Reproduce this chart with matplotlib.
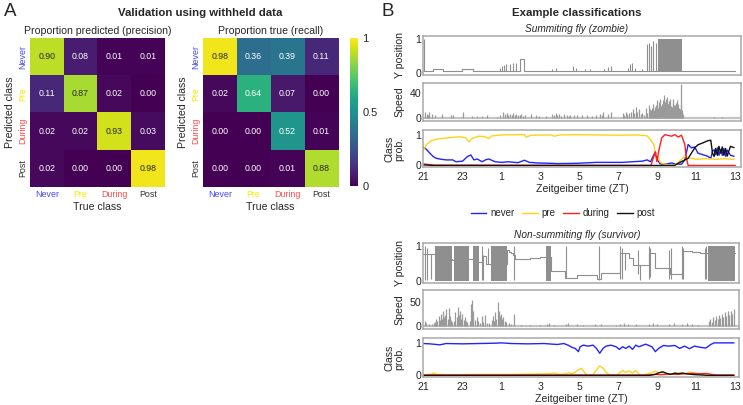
import numpy as np
import matplotlib
matplotlib.use('Agg')
import matplotlib.pyplot as plt
from matplotlib.lines import Line2D
from matplotlib.cm import ScalarMappable
from matplotlib.colors import Normalize

plt.rcParams['font.family'] = ['Liberation Sans', 'DejaVu Sans']

# ---------------- data ----------------
classes = ['Never', 'Pre', 'During', 'Post']
class_colors = ['#4646ff', '#f5ea00', '#ff4a4a', '#333333']

precision = np.array([[0.90, 0.08, 0.01, 0.01],
                      [0.11, 0.87, 0.02, 0.00],
                      [0.02, 0.02, 0.93, 0.03],
                      [0.02, 0.00, 0.00, 0.98]])
recall = np.array([[0.98, 0.36, 0.39, 0.11],
                   [0.02, 0.64, 0.07, 0.00],
                   [0.00, 0.00, 0.52, 0.01],
                   [0.00, 0.00, 0.01, 0.88]])

zt_ticks = [0, 2, 4, 6, 8, 10, 12, 14, 16]
zt_labels = ['21', '23', '1', '3', '5', '7', '9', '11', '13']

# ---- summiting fly (zombie) ----
top_y_t = [0, 0.5, 1.0, 2.0, 2.55, 4.95, 5.2, 13.3, 14.9, 16]
top_y_v = [0.06, 0.12, 0.06, 0.12, 0.06, 0.42, 0.06, 0.06, 0.04, 0.04]
top_spk_t = [0.04, 3.95, 4.05, 4.15, 4.25, 4.45, 4.6, 4.75, 6.6, 6.8, 7.7, 7.85,
             8.3, 8.55, 9.3, 9.5, 9.65, 10.5, 10.6, 10.7, 10.85, 11.2, 11.5,
             11.6, 11.7, 11.8, 11.95]
top_spk_h = [1.0, 0.15, 0.2, 0.22, 0.25, 0.25, 0.3, 0.3, 0.12, 0.14, 0.2, 0.15,
             0.12, 0.1, 0.12, 0.18, 0.2, 0.15, 0.25, 0.3, 0.15, 0.12, 0.85,
             0.9, 0.8, 0.95, 0.9]
top_burst = [(12.05, 13.28, 0.05, 1.0)]

top_spd_t = [0.10, 0.18, 0.25, 0.32, 0.44, 0.6, 0.99, 1.44, 1.52, 2.03, 2.53, 2.78,
             3.03, 3.28, 3.79, 3.95, 4.12, 4.2, 4.29, 4.38, 4.46, 4.54, 4.62, 4.7,
             4.79, 4.87, 4.95, 5.04, 5.12, 5.21, 5.54, 5.8, 5.96, 6.3, 6.63, 6.72,
             6.8, 6.88, 6.97, 7.05, 7.22, 7.39, 7.47, 7.55, 7.72, 7.89, 8.14, 8.39,
             8.64, 8.89, 9.06, 9.15, 9.23, 9.48, 9.65, 10.23, 10.32, 10.4, 10.48,
             10.57, 10.66, 10.74, 10.82, 10.9, 10.98, 11.07, 11.16, 11.25, 11.33,
             11.41, 11.5, 11.58, 11.62, 11.66, 11.7, 11.74, 11.78, 11.82, 11.88,
             11.92, 11.96, 11.99, 12.04, 12.08, 12.12, 12.16, 12.2, 12.24, 12.28,
             12.33, 12.37, 12.41, 12.45, 12.5, 12.54, 12.58, 12.62, 12.66, 12.7,
             12.75, 12.79, 12.83, 12.87, 12.91, 12.95, 13.0, 13.04, 13.08, 13.12,
             13.17, 13.21, 13.25, 13.29, 13.33, 14.92, 15.34]
top_spd_v = [9.4, 6.8, 5, 9.4, 6.8, 4.2, 6.8, 4.2, 5.2, 9.4, 2.6, 2.6,
             2.6, 4.2, 1.5, 4.2, 9.4, 6.8, 7.8, 5, 6.8, 5, 7.8, 4,
             6.8, 4.2, 5, 6.8, 3, 4.2, 6.8, 4.2, 2.6, 2.6, 6.8, 4,
             7.8, 5, 6.8, 3.5, 5.8, 4.2, 3, 4.2, 5.2, 4.2, 4.2, 4.2,
             2.6, 5.2, 6.8, 4, 8.5, 6.8, 9.5, 8, 5, 9.4, 6,
             7, 10, 14.5, 8, 17, 10, 14.5, 6, 8, 5,
             15.5, 8, 19.7, 10, 14.5, 12, 16, 22.4, 12, 17.2,
             14, 20, 27.6, 15, 19.7, 25, 30.2, 18, 22.4, 28,
             35.4, 20, 25, 30, 32.8, 22, 22.4, 26, 30.2, 18,
             17.2, 24, 30.2, 20, 19.7, 24, 27.6, 18, 22.4, 15,
             14.5, 20, 53, 12, 6.8, 1.5, 1.5]

top_t_never = [0.0, 0.1, 0.35, 0.52, 0.69, 0.94, 1.19, 1.52, 1.69, 2.03, 2.28, 2.45,
               2.61, 2.78, 3.03, 3.2, 3.37, 3.7, 4.04, 4.37, 4.87, 5.2, 5.45, 5.87,
               6.55, 6.89, 7.89, 8.89, 10.23, 11.24, 11.49, 11.66, 11.91, 11.99,
               12.16, 12.41, 12.75, 12.91, 13.25, 13.42, 13.59, 13.76, 13.93, 14.09,
               14.34, 14.59, 14.75, 14.84, 14.92, 15.0, 15.09, 15.17, 15.26, 15.34,
               15.42, 15.51, 15.59, 15.76, 15.93]
top_never = [0.59, 0.57, 0.40, 0.29, 0.23, 0.20, 0.18, 0.18, 0.12, 0.14, 0.29, 0.34,
             0.18, 0.21, 0.12, 0.18, 0.21, 0.12, 0.10, 0.12, 0.09, 0.17, 0.10, 0.08,
             0.07, 0.06, 0.07, 0.10, 0.10, 0.14, 0.18, 0.12, 0.45, 0.20,
             0.05, 0.04, 0.08, 0.05, 0.04, 0.18, 0.68, 0.57, 0.60, 0.40,
             0.35, 0.30, 0.23, 0.46, 0.51, 0.35, 0.57, 0.33, 0.51, 0.33,
             0.55, 0.30, 0.50, 0.33, 0.30]
top_t_pre = [0.0, 0.18, 0.44, 0.85, 1.36, 1.86, 2.19, 2.36, 2.53, 2.86, 3.2, 3.37,
             3.53, 4.04, 4.87, 5.2, 5.29, 5.54, 6.55, 6.72, 7.05, 7.89, 8.9, 10.0,
             11.0, 11.49, 11.66, 11.83, 11.91, 12.08, 12.16, 12.33, 12.58, 12.9,
             13.08, 13.42, 13.6, 14.0, 14.5, 15.0, 15.5, 15.93]
top_pre = [0.46, 0.68, 0.81, 0.87, 0.90, 0.93, 0.90, 0.77, 0.88, 0.95, 0.93, 0.87,
           0.96, 0.99, 1.0, 1.0, 0.92, 0.98, 0.99, 0.95, 0.99, 1.0, 0.99, 0.98,
           0.99, 0.96, 0.84, 0.68, 0.40, 0.25, 0.10, 0.05, 0.02, 0.02,
           0.10, 0.30, 0.25, 0.20, 0.22, 0.20, 0.22, 0.20]
top_t_during = [0.0, 0.3, 0.6, 11.7, 11.74, 11.91, 11.99, 12.08, 12.24, 12.41, 12.58,
                12.75, 12.91, 13.08, 13.25, 13.33, 13.42, 13.5, 13.59, 16.0]
top_during = [0.05, 0.03, 0.01, 0.0, 0.12, 0.44, 0.12, 0.46, 0.90, 1.0, 0.97,
              0.95, 1.0, 0.92, 0.98, 0.84, 0.68, 0.23, 0.0, 0.0]
top_t_post = [0.0, 0.3, 0.5, 12.9, 13.08, 13.42, 13.59, 13.76, 13.93, 14.09, 14.34,
              14.59, 14.75, 14.84, 14.92, 15.0, 15.09, 15.17, 15.26, 15.34, 15.42,
              15.51, 15.59, 15.76, 15.93]
top_post = [0.02, 0.01, 0.0, 0.0, 0.07, 0.18, 0.23, 0.40, 0.57, 0.67, 0.73,
            0.80, 0.82, 0.40, 0.29, 0.55, 0.33, 0.62, 0.40, 0.60, 0.33,
            0.55, 0.30, 0.62, 0.58]

# ---- non-summiting fly (survivor) ----
bot_y_t = [0.0, 0.6, 1.5, 1.6, 2.35, 2.55, 2.85, 3.0, 3.25, 3.5, 4.3, 4.4, 4.5,
           4.6, 4.7, 5.5, 6.0, 6.3, 6.55, 7.3, 7.9, 8.9, 9.15, 10.1, 10.55,
           10.75, 11.6, 11.9, 12.65, 13.35, 13.8, 14.2, 14.6, 16.0]
bot_y_v = [0.78, 0.62, 0.60, 0.62, 0.62, 0.55, 0.55, 0.72, 0.50, 0.50, 0.90, 0.85,
           0.80, 0.75, 0.64, 0.66, 0.68, 0.70, 0.27, 0.07, 0.15, 0.05, 0.23, 0.80,
           0.65, 0.47, 0.80, 0.38, 0.18, 0.88, 0.85, 0.80, 0.80, 0.80]
bot_spk_t = [0.1, 0.2, 0.4, 2.25, 2.75, 3.0, 3.1, 3.35, 4.65, 7.35, 9.0, 10.1,
             10.2, 10.35, 11.0, 11.15, 11.6, 11.65, 12.6, 12.7, 13.28, 13.33,
             14.45, 14.5]
bot_spk_lo = [0.02, 0.02, 0.05, 0.05, 0.5, 0.02, 0.02, 0.5, 0.02, 0.07, 0.03, 0.05,
              0.05, 0.3, 0.2, 0.03, 0.05, 0.1, 0.05, 0.05, 0.05, 0.05, 0.05, 0.05]
bot_spk_hi = [1.0, 0.95, 0.78, 1.0, 1.0, 1.0, 0.75, 0.95, 1.0, 1.0, 1.0, 1.0,
              0.95, 0.8, 0.9, 0.47, 1.0, 0.95, 0.9, 0.95, 1.0, 0.95, 0.95, 1.0]
bot_burst = [(0.6, 1.5, 0.0, 1.0), (1.6, 2.35, 0.0, 1.0), (2.55, 2.85, 0.0, 1.0),
             (3.5, 4.3, 0.0, 1.0), (6.3, 6.55, 0.0, 1.0), (14.6, 16.0, 0.0, 1.0)]

bot_spd_t = [0.1, 0.15, 0.3, 0.45, 0.55, 0.62, 0.68, 0.74, 0.8, 0.86, 0.92, 0.98,
             1.03, 1.08, 1.14, 1.2, 1.26, 1.32, 1.38, 1.44, 1.5, 1.6, 1.66, 1.72,
             1.78, 1.84, 1.9, 1.96, 2.02, 2.08, 2.14, 2.2, 2.26, 2.4, 2.47, 2.53,
             2.58, 2.65, 2.75, 2.82, 2.9, 3.0, 3.1, 3.2, 3.3, 3.4, 3.52, 3.58, 3.64,
             3.7, 3.76, 3.83, 3.88, 3.94, 4.0, 4.06, 4.12, 4.18, 4.25, 4.4, 4.5,
             4.65, 5.0, 5.5, 6.0, 6.35, 6.45, 6.7, 7.35, 7.45, 7.9, 8.2, 8.8, 9.1,
             9.9, 10.1, 10.3, 10.5, 10.9, 11.6, 11.8, 12.0, 12.6, 12.85, 13.3,
             13.55, 13.8, 14.1, 14.65, 14.72, 14.8, 14.88, 14.95, 15.02, 15.1,
             15.18, 15.25, 15.32, 15.4, 15.48, 15.55, 15.62, 15.7, 15.78, 15.85,
             15.92]
bot_spd_v = [10, 6, 3, 4, 5, 8, 14, 10, 20, 12, 25, 15,
             30, 18, 22, 35, 14, 38, 20, 12, 8, 10, 28, 18,
             40, 22, 30, 15, 25, 12, 18, 10, 8, 10, 45, 54,
             30, 12, 18, 10, 6, 20, 8, 22, 6, 5, 12, 20, 10,
             28, 15, 50, 32, 20, 25, 14, 18, 10, 8, 5, 4,
             25, 1, 1.5, 2, 4, 6, 2, 3, 5, 3, 2, 4, 3,
             2, 4, 6, 4, 3, 4, 6, 4, 3, 6, 3,
             5, 4, 2, 10, 14, 8, 18, 12, 20, 14,
             22, 16, 25, 18, 28, 20, 30, 22, 32, 25,
             35]

bot_t_never = [0.0, 0.35, 0.86, 1.19, 2.03, 2.86, 3.7, 4.03, 4.54, 5.38, 6.21, 6.88,
               7.22, 7.47, 7.64, 7.8, 7.97, 8.05, 8.22, 8.47, 8.72, 8.89, 9.06, 9.23,
               9.39, 9.64, 9.9, 10.07, 10.23, 10.4, 10.57, 10.74, 10.91, 11.07,
               11.41, 11.74, 11.91, 12.08, 12.33, 12.58, 12.91, 13.16, 13.41, 13.66,
               13.91, 14.25, 14.5, 14.75, 14.92, 15.93]
bot_never = [0.98, 0.97, 0.94, 0.98, 0.97, 0.98, 0.99, 1.0, 0.98, 0.97, 0.98, 0.95,
             0.98, 0.92, 0.86, 0.83, 0.73, 0.88, 0.93, 0.90, 0.93, 0.83, 0.68, 0.83,
             0.90, 0.93, 0.88, 0.80, 0.88, 0.83, 0.90, 0.80, 0.93, 0.88,
             0.96, 0.88, 0.73, 0.83, 0.92, 0.90, 0.92, 0.83, 0.90, 0.82,
             0.90, 0.86, 0.84, 0.95, 1.0, 1.0]
bot_t_pre = [0.0, 0.4, 0.55, 0.7, 1.5, 3.0, 4.5, 5.5, 6.5, 6.7, 7.0, 7.3, 7.5, 7.64,
             7.8, 7.97, 8.13, 8.3, 8.47, 8.72, 8.89, 9.06, 9.23, 9.39, 9.56, 9.9,
             10.07, 10.23, 10.4, 10.57, 10.74, 10.91, 11.07, 11.24, 11.58, 11.74,
             11.91, 12.08, 12.24, 12.41, 12.58, 12.91, 13.16, 13.41, 13.66, 13.91,
             14.08, 14.42, 15.93]
bot_pre = [0.02, 0.03, 0.07, 0.03, 0.02, 0.03, 0.03, 0.04, 0.05, 0.07, 0.03, 0.05,
           0.08, 0.05, 0.10, 0.17, 0.22, 0.07, 0.0, 0.02, 0.17, 0.29, 0.22, 0.09,
           0.02, 0.0, 0.07, 0.15, 0.09, 0.14, 0.07, 0.15, 0.04, 0.0, 0.06, 0.08,
           0.13, 0.08, 0.11, 0.05, 0.02, 0.06, 0.08, 0.05, 0.10, 0.08, 0.05,
           0.0, 0.0]
bot_t_during = [0.0, 11.5, 11.9, 12.2, 12.6, 13.0, 13.4, 13.8, 14.2, 14.5, 14.8, 15.0,
                15.93]
bot_during = [0.01, 0.01, 0.03, 0.02, 0.04, 0.03, 0.05, 0.06, 0.05, 0.06, 0.03, 0.01,
              0.01]
bot_t_post = [0.0, 11.6, 11.9, 12.1, 12.3, 12.5, 12.7, 12.9, 13.1, 13.3, 13.6, 14.0,
              14.4, 14.6, 15.93]
bot_post = [0.0, 0.0, 0.03, 0.08, 0.11, 0.06, 0.03, 0.07, 0.05, 0.07, 0.04, 0.02,
            0.01, 0.0, 0.0]

line_colors = {'never': '#2323ff', 'pre': '#ffd21a', 'during': '#ff1f1f', 'post': '#111111'}

# ---------------- figure ----------------
W, H = 743, 405
fig = plt.figure(figsize=(W / 100, H / 100), dpi=100)


def ax_px(x0, y0, x1, y1):
    return fig.add_axes([x0 / W, 1 - y1 / H, (x1 - x0) / W, (y1 - y0) / H])


TXT = '#262626'

# Panel A
fig.text(4 / W, 1 - 11 / H, 'A', fontsize=13.5, ha='left', va='center', color=TXT)
fig.text(200 / W, 1 - 13 / H, 'Validation using withheld data', fontsize=8.2,
         fontweight='bold', ha='center', va='center', color=TXT)


def heat(ax, M, title):
    ax.imshow(M, cmap='viridis', vmin=0, vmax=1, aspect='auto', interpolation='nearest')
    for i in range(M.shape[0]):
        for j in range(M.shape[1]):
            v = M[i, j]
            ax.text(j, i, f'{v:.2f}', ha='center', va='center', fontsize=6.3,
                    color=TXT if v > 0.7 else 'white')
    ax.set_xticks(range(4))
    ax.set_xticklabels(classes, fontsize=6.4)
    ax.set_yticks(range(4))
    ax.set_yticklabels(classes, fontsize=6.4, rotation=90, va='center')
    for lbl, c in zip(ax.get_xticklabels(), class_colors):
        lbl.set_color(c)
    for lbl, c in zip(ax.get_yticklabels(), class_colors):
        lbl.set_color(c)
    ax.tick_params(length=0, pad=2)
    for s in ax.spines.values():
        s.set_visible(False)
    ax.set_xlabel('True class', fontsize=7.6, labelpad=2, color=TXT)
    ax.set_ylabel('Predicted class', fontsize=7.6, labelpad=2, color=TXT)
    ax.set_title(title, fontsize=7.6, pad=3, color=TXT)


axA1 = ax_px(30, 38, 165, 187)
heat(axA1, precision, 'Proportion predicted (precision)')
axA2 = ax_px(203, 38, 338, 187)
heat(axA2, recall, 'Proportion true (recall)')

cax = ax_px(350, 38, 358, 186)
cb = fig.colorbar(ScalarMappable(norm=Normalize(0, 1), cmap='viridis'), cax=cax,
                  ticks=[0, 0.5, 1])
cb.ax.set_yticklabels(['0', '0.5', '1'])
cb.ax.tick_params(length=0, labelsize=8, pad=3, colors=TXT)
cb.outline.set_visible(False)

# Panel B
fig.text(381 / W, 1 - 11 / H, 'B', fontsize=13.5, ha='left', va='center', color=TXT)
fig.text(577 / W, 1 - 12.5 / H, 'Example classifications', fontsize=8.2,
         fontweight='bold', ha='center', va='center', color=TXT)
fig.text(577 / W, 1 - 29 / H, 'Summiting fly (zombie)', fontsize=7.3,
         style='italic', ha='center', va='center', color=TXT)
fig.text(577 / W, 1 - 235 / H, 'Non-summiting fly (survivor)', fontsize=7.3,
         style='italic', ha='center', va='center', color=TXT)

GRAY = '#8f8f8f'


def style_ts(ax, ylabel, xmax):
    for s in ax.spines.values():
        s.set_color('#a8a8a8')
        s.set_linewidth(1.1)
    ax.set_xlim(0, xmax)
    ax.tick_params(axis='y', length=0, labelsize=7.6, pad=1.5, colors=TXT)
    ax.tick_params(axis='x', length=0, labelsize=7.6, pad=3.5, colors=TXT)
    ax.set_ylabel(ylabel, fontsize=7.6, color=TXT, linespacing=1.0)
    ax.yaxis.set_label_coords(-0.058, 0.5)


def ypos_panel(ax, t, v, spk_t, spk_lo, spk_hi, bursts, xmax):
    for (s, e, lo, hi) in bursts:
        ax.fill_between([s, e], [lo, lo], [hi, hi], color=GRAY, lw=0)
    ax.step(t, v, where='post', color=GRAY, lw=0.8)
    ax.vlines(spk_t, spk_lo, spk_hi, color=GRAY, lw=0.8)
    ax.set_ylim(-0.07, 1.1)
    ax.set_yticks([0, 1])
    ax.set_xticks([])
    style_ts(ax, 'Y position', xmax)


def speed_panel(ax, t, v, ymax, ticks, xmax):
    ax.axhline(0.0, color='#c4c4c4', lw=1.6)
    ax.vlines(t, 0, v, color='#9a9a9a', lw=0.9)
    ax.set_ylim(-ymax * 0.09, ymax)
    ax.set_yticks(ticks)
    ax.set_xticks([])
    style_ts(ax, 'Speed', xmax)


def class_panel(ax, series, xmax):
    for (t, v, key) in series:
        ax.plot(t, v, color=line_colors[key], lw=1.0)
    ax.set_ylim(-0.05, 1.15)
    ax.set_yticks([0, 1])
    ax.set_xticks(zt_ticks)
    ax.set_xticklabels(zt_labels)
    style_ts(ax, 'Class\nprob.', xmax)
    ax.set_xlabel('Zeitgeiber time (ZT)', fontsize=7.6, color=TXT, labelpad=1.5)


# top fly
XT = 16.3
ax1 = ax_px(423, 36, 741, 75)
ypos_panel(ax1, top_y_t, top_y_v, top_spk_t, [0.05] * len(top_spk_t), top_spk_h, top_burst, XT)
ax2 = ax_px(423, 83, 741, 121)
speed_panel(ax2, top_spd_t, top_spd_v, 55, [0, 40], XT)
ax3 = ax_px(423, 130, 741, 167)
class_panel(ax3, [(top_t_never, top_never, 'never'), (top_t_pre, top_pre, 'pre'),
                  (top_t_during, top_during, 'during'), (top_t_post, top_post, 'post')], XT)

# legend
handles = [Line2D([], [], color=line_colors[k], lw=1.0) for k in ['never', 'pre', 'during', 'post']]
fig.legend(handles, ['never', 'pre', 'during', 'post'], loc='center',
           bbox_to_anchor=(563 / W, 1 - 213 / H), ncol=4, frameon=False, fontsize=7,
           handlelength=1.6, columnspacing=0.8, handletextpad=0.4, labelcolor=TXT)

# bottom fly
XB = 16.2
ax4 = ax_px(423, 243, 739, 283)
ypos_panel(ax4, bot_y_t, bot_y_v, bot_spk_t, bot_spk_lo, bot_spk_hi, bot_burst, XB)
ax5 = ax_px(423, 290, 739, 329)
speed_panel(ax5, bot_spd_t, bot_spd_v, 75, [0, 50], XB)
ax6 = ax_px(423, 338, 739, 377)
class_panel(ax6, [(bot_t_never, bot_never, 'never'), (bot_t_pre, bot_pre, 'pre'),
                  (bot_t_during, bot_during, 'during'), (bot_t_post, bot_post, 'post')], XB)

fig.savefig('out.png', dpi=100)
